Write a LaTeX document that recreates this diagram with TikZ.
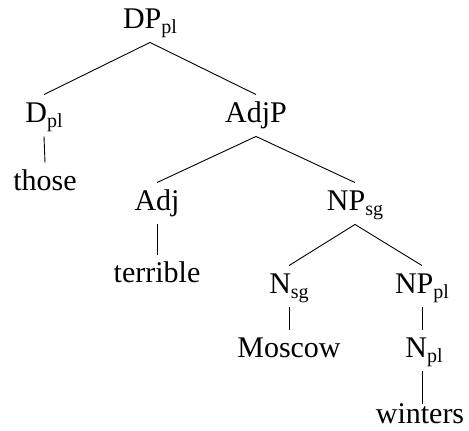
\documentclass[tikz,border=0pt]{standalone}
\usepackage{fontspec}
\setmainfont{Liberation Serif}
\newcommand{\subsc}[1]{\raisebox{-5pt}{\fontsize{20}{20}\selectfont #1}}
\begin{document}
\begin{tikzpicture}[x=1pt, y=-1pt, line width=0.9pt, tree node/.style={anchor=base,inner xsep=0pt,inner ysep=7pt,text height=20pt,text depth=7pt}]%
\useasboundingbox (0,0) rectangle (469,431);
\begin{scope}[every node/.style={font=\fontsize{30}{36}\selectfont}]
\node[tree node] (dp) at (150,28) {DP\subsc{pl}};
\node[tree node] (d) at (44,122) {D\subsc{pl}};
\node[tree node] (those) at (45,190) {those};
\node[tree node] (adjp) at (256,122) {AdjP};
\node[tree node] (adj) at (157,210) {Adj};
\node[tree node] (terrible) at (157,282) {terrible};
\node[tree node] (npsg) at (355,210) {NP\subsc{sg}};
\node[tree node] (nsg) at (289,293) {N\subsc{sg}};
\node[tree node] (moscow) at (289,357) {Moscow};
\node[tree node] (nppl) at (422,293) {NP\subsc{pl}};
\node[tree node] (npl) at (424,357) {N\subsc{pl}};
\node[tree node,text depth=1pt,inner ysep=2pt] (winters) at (420,423) {winters};
\end{scope}
\begin{scope}[every edge/.style={draw=black,line width=0.9pt}]
\draw (dp.south) edge (d.north);
\draw (dp.south) edge (adjp.north);
\draw (d.south) edge (those.north);
\draw (adjp.south) edge (adj.north);
\draw (adjp.south) edge (npsg.north);
\draw (adj.south) edge (terrible.north);
\draw (npsg.south) edge (nsg.north);
\draw (npsg.south) edge (nppl.north);
\draw (nsg.south) edge (moscow.north);
\draw (nppl.south) edge (npl.north -| nppl.south);
\draw (npl.south -| nppl.south) edge ([yshift=-3pt]winters.north -| nppl.south);
\end{scope}
\end{tikzpicture}
\end{document}
